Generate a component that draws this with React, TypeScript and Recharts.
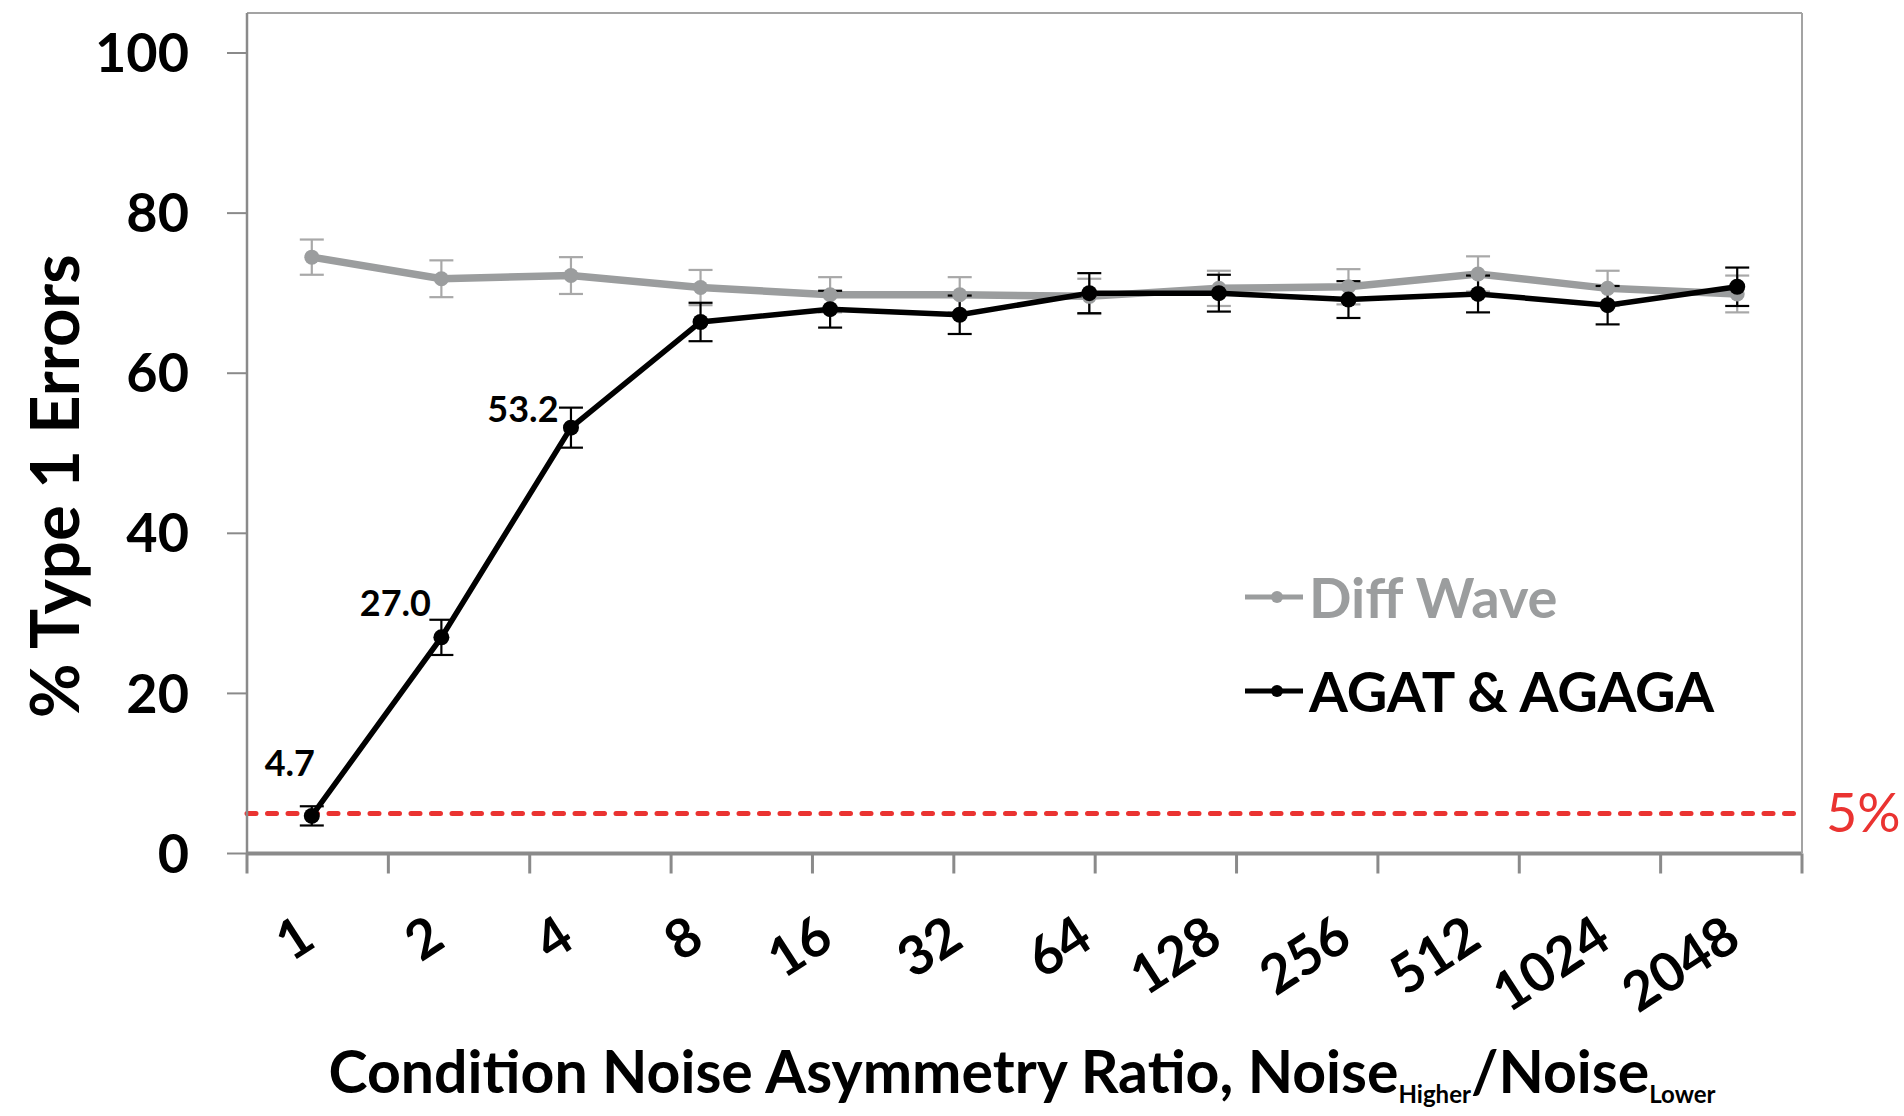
import React from 'react';
import {
  ComposedChart,
  Line,
  XAxis,
  YAxis,
  ErrorBar,
  ReferenceLine,
  Legend,
  LabelList,
} from 'recharts';

// ---- data ----
const ratios = ['1', '2', '4', '8', '16', '32', '64', '128', '256', '512', '1024', '2048'];
const diffWave = [74.5, 71.8, 72.2, 70.7, 69.8, 69.8, 69.6, 70.6, 70.8, 72.4, 70.6, 69.9];
const diffWaveErr = [2.2, 2.3, 2.3, 2.2, 2.2, 2.2, 2.2, 2.2, 2.2, 2.2, 2.2, 2.3];
const agat = [4.7, 27.0, 53.2, 66.4, 68.0, 67.3, 70.0, 70.0, 69.2, 69.9, 68.5, 70.8];
const agatErr = [1.2, 2.2, 2.5, 2.4, 2.3, 2.4, 2.5, 2.3, 2.3, 2.3, 2.4, 2.4];
const labeledPoints = [0, 1, 2];
const seriesOrder = ['Diff Wave', 'AGAT & AGAGA'];
const yTicks = [0, 20, 40, 60, 80, 100];
const boundaryTicks = [0, 1, 2, 3, 4, 5, 6, 7, 8, 9, 10, 11, 12];
const threshold = 5;

const data = ratios.map((r, i) => ({
  ratio: r,
  diffWave: diffWave[i],
  diffWaveErr: diffWaveErr[i],
  agat: agat[i],
  agatErr: agatErr[i],
}));

const FONT = 'Lato, "Open Sans", "DejaVu Sans", sans-serif';
const GRAY = '#9b9d9e';
const AXIS = '#8a8a8a';
const RED = '#ea3331';

const XTick = (props: any) => {
  const { x, y, payload } = props;
  const px = x + 6;
  const py = y + 91;
  return (
    <text
      x={px}
      y={py}
      transform={`rotate(-33 ${px} ${py})`}
      textAnchor="end"
      fontFamily={FONT}
      fontWeight={700}
      fontSize={54}
      fill="#000"
    >
      {payload.value}
    </text>
  );
};

const EmptyTick = () => <g />;

const YTitle = (props: any) => {
  const vb = props.viewBox || { x: 0, y: 13, width: 247, height: 840 };
  const cx = 79;
  const cy = vb.y + vb.height / 2 + 53;
  return (
    <text
      x={cx}
      y={cy}
      transform={`rotate(-90 ${cx} ${cy})`}
      textAnchor="middle"
      fontFamily={FONT}
      fontWeight={700}
      fontSize={67}
      fill="#000"
    >
      % Type 1 Errors
    </text>
  );
};

const XTitle = (props: any) => {
  const vb = props.viewBox || { x: 247, y: 855, width: 1555, height: 261 };
  const cx = 1022;
  const cy = vb.y + 238;
  return (
    <text x={cx} y={cy} textAnchor="middle" fontFamily={FONT} fontWeight={700} fontSize={59} fill="#000">
      <tspan>Condition Noise Asymmetry Ratio, Noise</tspan>
      <tspan fontSize={24} dy={10}>Higher</tspan>
      <tspan dy={-10}>/Noise</tspan>
      <tspan fontSize={24} dy={10}>Lower</tspan>
    </text>
  );
};

const FivePct = (props: any) => {
  const vb = props.viewBox || { x: 247, y: 814, width: 1555 };
  return (
    <text
      x={vb.x + vb.width + 24}
      y={vb.y + 19}
      fontFamily={FONT}
      fontSize={54}
      fill={RED}
      textAnchor="start"
    >
      5%
    </text>
  );
};

const labelOffsets: Record<number, [number, number]> = {
  0: [-22, -40],
  1: [-46, -21],
  2: [-48, -6],
};

const AgatLabel = (props: any) => {
  const { x, y, index, value } = props;
  if (!labeledPoints.includes(index)) return null;
  const [dx, dy] = labelOffsets[index];
  return (
    <text
      x={x + dx}
      y={y + dy}
      textAnchor="middle"
      fontFamily={FONT}
      fontWeight={700}
      fontSize={36}
      fill="#000"
    >
      {Number(value).toFixed(1)}
    </text>
  );
};

const LegendContent = (props: any) => {
  const payload = [...(props.payload || [])].sort(
    (a: any, b: any) => seriesOrder.indexOf(a.value) - seriesOrder.indexOf(b.value)
  );
  return (
    <div style={{ fontFamily: FONT, fontWeight: 700, fontSize: 56 }}>
      {payload.map((entry: any) => (
        <div
          key={entry.value}
          style={{ display: 'flex', alignItems: 'center', height: 94, color: entry.color, lineHeight: '94px', whiteSpace: 'nowrap' }}
        >
          <svg width={62} height={20} style={{ marginRight: 2 }}>
            <line x1={0} y1={10} x2={58} y2={10} stroke={entry.color} strokeWidth={5} />
            <circle cx={32} cy={10} r={6} fill={entry.color} />
          </svg>
          <span>{entry.value}</span>
        </div>
      ))}
    </div>
  );
};

export default function App() {
  return (
    <div style={{ position: 'absolute', left: 0, top: 0, width: 1904, height: 1116, background: '#fff' }}>
      <ComposedChart
        width={1904}
        height={1116}
        data={data}
        margin={{ top: 12, right: 101, bottom: 0, left: 0 }}
        style={{ fontFamily: FONT }}
      >
        <XAxis
          xAxisId="top"
          orientation="top"
          type="number"
          domain={[0, 12]}
          allowDataOverflow
          height={1}
          tick={false}
          tickLine={false}
          axisLine={{ stroke: '#a3a3a3', strokeWidth: 2 }}
        />
        <XAxis
          xAxisId="axis"
          type="number"
          domain={[0, 12]}
          allowDataOverflow
          ticks={boundaryTicks}
          interval={0}
          height={1}
          tick={<EmptyTick />}
          tickSize={20}
          tickLine={{ stroke: AXIS, strokeWidth: 3 }}
          axisLine={{ stroke: AXIS, strokeWidth: 4 }}
        />
        <XAxis
          xAxisId="labels"
          dataKey="ratio"
          type="category"
          scale="band"
          height={261.5}
          axisLine={false}
          tickLine={false}
          tickSize={0}
          tickMargin={0}
          interval={0}
          tick={<XTick />}
          label={<XTitle />}
        />
        <YAxis
          yAxisId="left"
          type="number"
          domain={[0, 105]}
          allowDataOverflow
          ticks={yTicks}
          interval={0}
          width={247}
          tickSize={20}
          tickMargin={38}
          tickLine={{ stroke: AXIS, strokeWidth: 2 }}
          axisLine={{ stroke: AXIS, strokeWidth: 2.5 }}
          tick={{ fill: '#000', fontSize: 54, fontWeight: 700, fontFamily: FONT }}
          label={<YTitle />}
        />
        <YAxis
          yAxisId="right"
          orientation="right"
          type="number"
          domain={[0, 105]}
          allowDataOverflow
          width={1}
          tick={false}
          tickLine={false}
          axisLine={{ stroke: '#a3a3a3', strokeWidth: 2 }}
        />
        <ReferenceLine
          yAxisId="left"
          xAxisId="labels"
          y={threshold}
          stroke={RED}
          strokeWidth={5}
          strokeDasharray="9 11.5"
          strokeLinecap="round"
          label={<FivePct />}
        />
        <Line
          yAxisId="left"
          xAxisId="labels"
          dataKey="diffWave"
          name="Diff Wave"
          stroke={GRAY}
          strokeWidth={7.5}
          dot={{ r: 7.5, fill: GRAY, stroke: GRAY, strokeWidth: 0 }}
          activeDot={false}
          isAnimationActive={false}
        >
          <ErrorBar dataKey="diffWaveErr" direction="y" width={12} stroke="#a8a8a8" strokeWidth={2.2} isAnimationActive={false} />
        </Line>
        <Line
          yAxisId="left"
          xAxisId="labels"
          dataKey="agat"
          name="AGAT & AGAGA"
          stroke="#000"
          strokeWidth={5.5}
          dot={{ r: 8, fill: '#000', stroke: '#000', strokeWidth: 0 }}
          activeDot={false}
          isAnimationActive={false}
        >
          <ErrorBar dataKey="agatErr" direction="y" width={12} stroke="#000" strokeWidth={2.2} isAnimationActive={false} />
          <LabelList dataKey="agat" content={<AgatLabel />} />
        </Line>
        <Legend
          layout="vertical"
          align="center"
          verticalAlign="middle"
          content={<LegendContent />}
          wrapperStyle={{ position: 'absolute', left: 1245, top: 550, width: 'auto', height: 'auto' }}
        />
      </ComposedChart>
    </div>
  );
}
